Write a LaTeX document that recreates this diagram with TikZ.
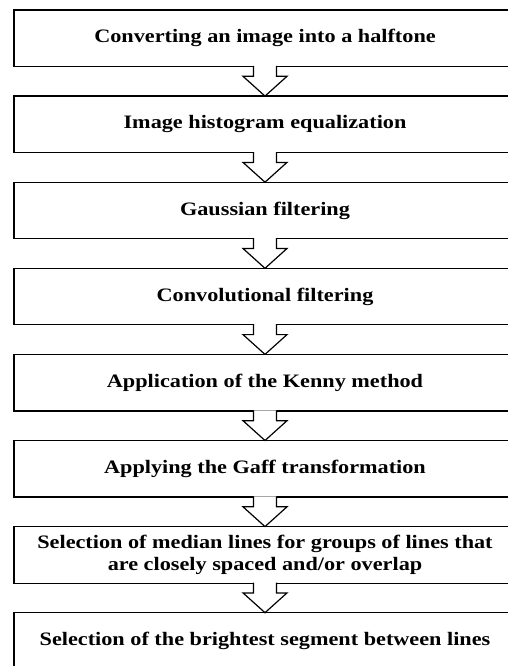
\documentclass[tikz,border=0pt]{standalone}
\usepackage{fontspec}
\setmainfont{Liberation Serif}[FakeStretch=1.17]
\usetikzlibrary{positioning}

\begin{document}
\begin{tikzpicture}[
  x=1pt, y=1pt,
  font=\fontsize{19}{22}\selectfont\bfseries,
  stage/.style={draw=black, line width=1.2pt, minimum width=502pt,
                minimum height=56.5pt, inner sep=0pt, outer sep=0pt, align=center},
  blk/.style={draw=black, fill=white, line width=1.2pt, line join=miter},
  node distance=29.6pt
]
\useasboundingbox (0,0) rectangle (507,-666);

% Processing stages, top to bottom
\node[stage] (halftone) at (265,-38.25) {Converting an image into a halftone};
\node[stage, below=of halftone] (histeq) {Image histogram equalization};
\node[stage, below=of histeq] (gauss) {Gaussian filtering};
\node[stage, below=of gauss] (convfilt) {Convolutional filtering};
\node[stage, below=of convfilt] (kenny) {Application of the Kenny method};
\node[stage, below=of kenny] (gaff) {Applying the Gaff transformation};
\node[stage, below=of gaff] (median) {Selection of median lines for groups of lines that\\are closely spaced and/or overlap};
\node[stage, below=of median] (bright) {Selection of the brightest segment between lines};

% Hollow block arrows between the stages
\foreach \a/\b in {halftone/histeq, histeq/gauss, gauss/convfilt, convfilt/kenny,
                   kenny/gaff, gaff/median, median/bright}
  \filldraw[blk] ([xshift=-11.5pt,yshift=0.6pt]\a.south)
    -- ([xshift=-11.5pt,yshift=-9.8pt]\a.south)
    -- ([xshift=-22pt,yshift=-9.8pt]\a.south)
    -- (\b.north)
    -- ([xshift=22pt,yshift=-9.8pt]\a.south)
    -- ([xshift=11.5pt,yshift=-9.8pt]\a.south)
    -- ([xshift=11.5pt,yshift=0.6pt]\a.south);

\end{tikzpicture}
\end{document}
